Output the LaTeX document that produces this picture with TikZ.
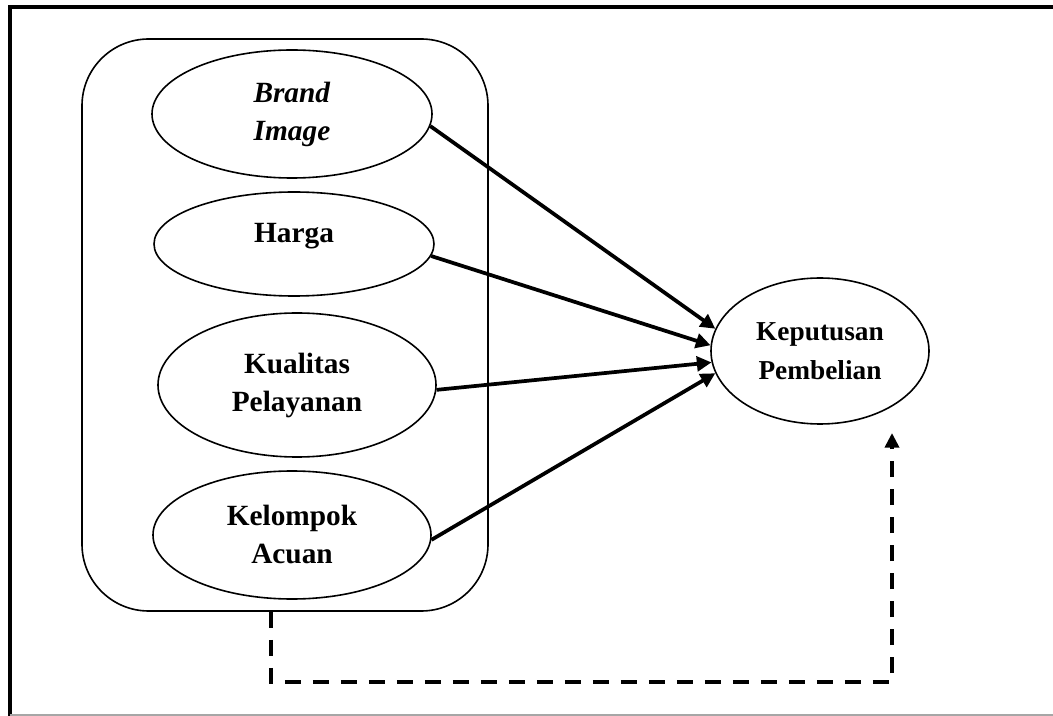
\documentclass[tikz,border=0pt]{standalone}
\usepackage{fontspec}
\setmainfont{Liberation Serif}
\usetikzlibrary{shapes.geometric,arrows.meta}
\begin{document}
\begin{tikzpicture}[x=0.75pt,y=-0.75pt,
  oval/.style={draw,ellipse,line width=1.2pt,inner sep=0pt,align=center,
    font=\fontsize{22}{28.5}\selectfont\bfseries},
  grpbox/.style={draw,rounded corners=50pt,line width=1.2pt,inner sep=0pt},
  link/.style={line width=2.8pt,-{Triangle[length=11pt,width=11pt]}},
  dlink/.style={line width=3pt,dash pattern=on 12pt off 9pt,-{Triangle[length=11pt,width=10.5pt]}}]
\useasboundingbox (0,0) rectangle (1053,716);
% outer frame (cropped on the right)
\draw[line width=3pt] (10,716) -- (10,7) -- (1060,7);
\draw[gray!70,line width=1pt] (10,715) -- (1060,715);
% group box
\node[grpbox,minimum width=304.5pt,minimum height=429pt] (grp) at (285,325) {};
% ellipses
\node[oval,minimum width=210pt,minimum height=96pt] (brand) at (292,114) {\textit{Brand}\\\textit{Image}};
\node[oval,minimum width=210pt,minimum height=78pt] (harga) at (294,244) {\raisebox{17pt}{Harga}};
\node[oval,minimum width=208.5pt,minimum height=108pt] (kual) at (297,385) {Kualitas\\Pelayanan};
\node[oval,minimum width=208.5pt,minimum height=96pt] (kel) at (292,535) {Kelompok\\Acuan};
\node[oval,minimum width=163.5pt,minimum height=109.5pt,font=\fontsize{20.5}{29}\selectfont\bfseries] (kep) at (820,351) {Keputusan\\Pembelian};
% arrows
\draw[link] (brand.-5) -- (kep.168);
\draw[link] (harga.-5) -- (kep.177);
\draw[link] (kual.-2) -- (kep.186);
\draw[link] (kel.-2) -- (kep.192);
% dashed path
\coordinate (c1) at (271,682);
\coordinate (c2) at (892,682);
\coordinate (c3) at (892,433);
\draw[dlink] (c1 |- grp.south) -- (c1) -- (c2) -- (c3);
\end{tikzpicture}
\end{document}
